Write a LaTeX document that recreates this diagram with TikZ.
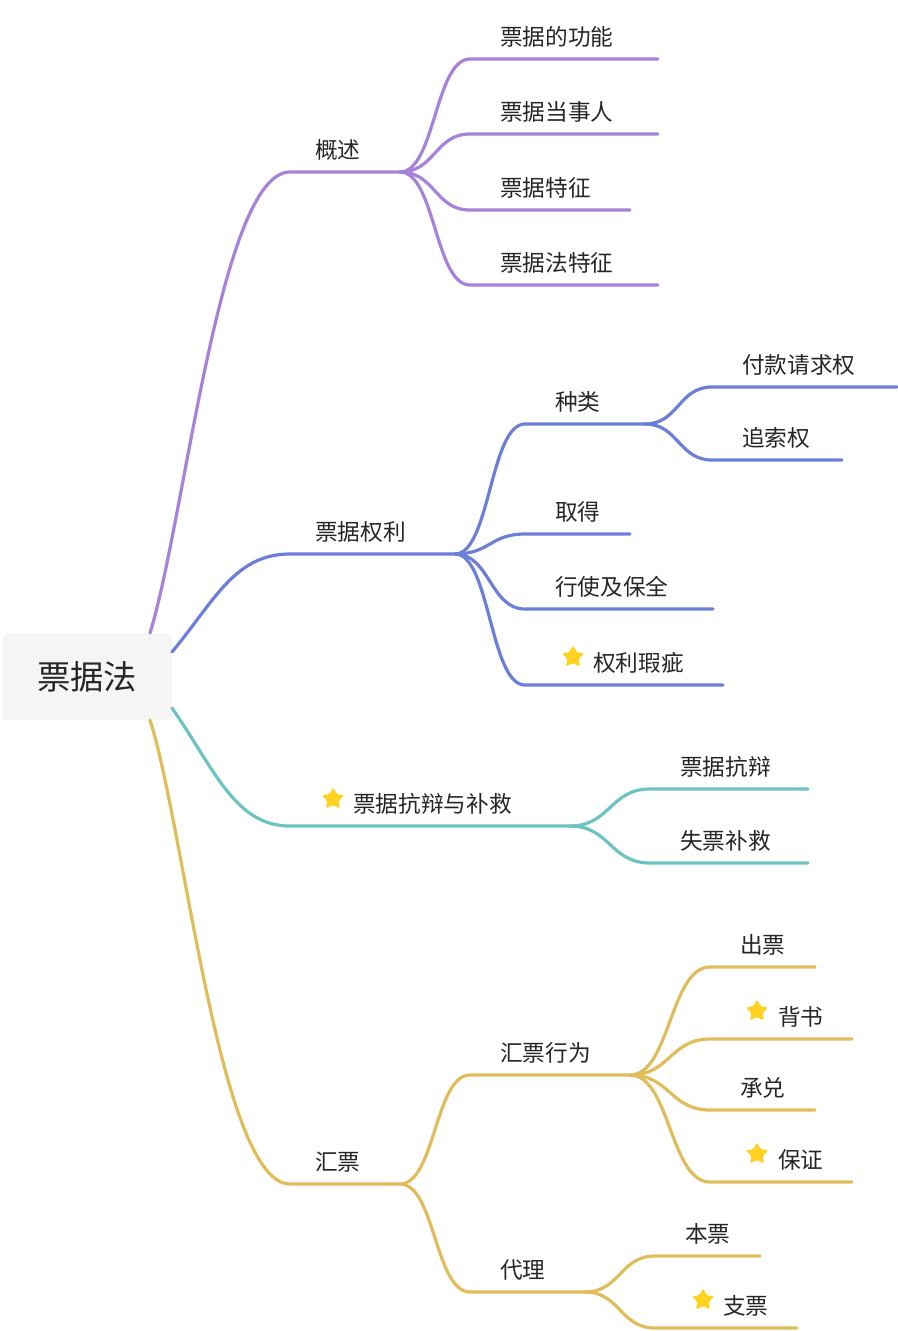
\documentclass[tikz,border=0pt]{standalone}
\usepackage{fontspec}
\setmainfont{Noto Sans CJK SC}
\usetikzlibrary{calc,shapes.geometric}
\definecolor{cP}{HTML}{A682DB}
\definecolor{cB}{HTML}{6C7FD8}
\definecolor{cT}{HTML}{6CC3C0}
\definecolor{cY}{HTML}{E0BD5A}
\definecolor{cS}{HTML}{FFD21F}
\tikzset{
 br/.style={line width=2.4pt,line cap=round},
 lbl/.style={anchor=south west,inner sep=0pt,font=\fontsize{17}{17}\selectfont,text=black!85},
 staricon/.style={star,star points=5,star point ratio=2.1,fill=cS,draw=cS,rounded corners=1.5pt,minimum size=17pt,inner sep=0pt,line width=0.5pt}
}
\newcommand\mmcurve[4]{%
 \draw[br,#1] let \p1=(#2),\p2=(#3) in (\p1) .. controls ({(\x1+\x2)/2},\y1) and ({(\x1+\x2)/2},\y2) .. (\p2) -- (#4 |- #3);
}
% #1 color, #2 from, #3 line start, #4 line end x, #5 label, #6 name
\newcommand\mmedge[6]{%
 \coordinate (#6e) at (#4,0);
 \mmcurve{#1}{#2}{#3}{#6e}
 \node[lbl] (#6) at ($(#3)+(30,-11)$) {#5};
}
\begin{document}
\begin{tikzpicture}[x=0.75pt,y=-0.75pt]
\useasboundingbox (0,0) rectangle (897,1331);
\node[fill=black!4,rounded corners=4pt,minimum width=127.5pt,minimum height=65pt,inner sep=0pt,font=\fontsize{25}{25}\selectfont,text=black!85] (root) at (87,677) {票据法};
\coordinate (p0) at (150,633); \coordinate (p1) at (290,172);
\coordinate (b0) at (172,652); \coordinate (b1) at (290,554);
\coordinate (t0) at (172,708); \coordinate (t1) at (290,826);
\coordinate (y0) at (150,720); \coordinate (y1) at (290,1184);
\coordinate (pE) at (400,172); \coordinate (bE) at (455,554);
\coordinate (tE) at (570,826); \coordinate (yE) at (400,1184);
\draw[br,cP] (p0) .. controls (185,520) and (220,172) .. (p1) -- (pE);
\draw[br,cB] (b0) .. controls (215,600) and (235,554) .. (b1) -- (bE);
\draw[br,cT] (t0) .. controls (215,770) and (235,826) .. (t1) -- (tE);
\draw[br,cY] (y0) .. controls (185,830) and (220,1184) .. (y1) -- (yE);
\node[lbl] (n1) at (315,161) {概述};
\node[lbl] (n2) at (315,543) {票据权利};
\node[staricon] (s1) at (333,799) {};
\node[lbl] (n3) at (353,815) {票据抗辩与补救};
\node[lbl] (n4) at (315,1173) {汇票};
% 概述
\coordinate (a1) at (470,59); \coordinate (a2) at (470,134);
\coordinate (a3) at (470,210); \coordinate (a4) at (470,285);
\mmedge{cP}{pE}{a1}{658}{票据的功能}{m1}
\mmedge{cP}{pE}{a2}{658}{票据当事人}{m2}
\mmedge{cP}{pE}{a3}{630}{票据特征}{m3}
\mmedge{cP}{pE}{a4}{658}{票据法特征}{m4}
% 票据权利
\coordinate (c1) at (525,424); \coordinate (c2) at (525,534);
\coordinate (c3) at (525,609); \coordinate (c4) at (525,685);
\mmedge{cB}{bE}{c1}{645}{种类}{k1}
\mmedge{cB}{bE}{c2}{630}{取得}{k2}
\mmedge{cB}{bE}{c3}{713}{行使及保全}{k3}
\coordinate (k4e) at (723,0);
\mmcurve{cB}{bE}{c4}{k4e}
\node[staricon] (s2) at (573,657) {};
\node[lbl] (k4) at (593,674) {权利瑕疵};
\coordinate (kE) at (645,424);
\coordinate (d1) at (712,387); \coordinate (d2) at (712,460);
\mmedge{cB}{kE}{d1}{897}{付款请求权}{q1}
\mmedge{cB}{kE}{d2}{842}{追索权}{q2}
% 抗辩
\coordinate (e1) at (650,789); \coordinate (e2) at (650,863);
\mmedge{cT}{tE}{e1}{808}{票据抗辩}{r1}
\mmedge{cT}{tE}{e2}{808}{失票补救}{r2}
% 汇票
\coordinate (f1) at (470,1075); \coordinate (f2) at (470,1292);
\mmedge{cY}{yE}{f1}{630}{汇票行为}{h1}
\mmedge{cY}{yE}{f2}{585}{代理}{h2}
\coordinate (hE) at (630,1075);
\coordinate (g1) at (710,967); \coordinate (g2) at (710,1039);
\coordinate (g3) at (710,1110); \coordinate (g4) at (710,1182);
\mmedge{cY}{hE}{g1}{815}{出票}{u1}
\coordinate (u2e) at (852,0);
\mmcurve{cY}{hE}{g2}{u2e}
\node[staricon] (s3) at (757,1011) {};
\node[lbl] (u2) at (778,1028) {背书};
\mmedge{cY}{hE}{g3}{815}{承兑}{u3}
\mmcurve{cY}{hE}{g4}{u2e}
\node[staricon] (s4) at (757,1154) {};
\node[lbl] (u4) at (778,1171) {保证};
\coordinate (vE) at (585,1292);
\coordinate (w1) at (655,1256); \coordinate (w2) at (655,1328);
\mmedge{cY}{vE}{w1}{760}{本票}{x1}
\coordinate (x2e) at (797,0);
\mmcurve{cY}{vE}{w2}{x2e}
\node[staricon] (s5) at (703,1300) {};
\node[lbl] (x2) at (723,1317) {支票};
\end{tikzpicture}
\end{document}
